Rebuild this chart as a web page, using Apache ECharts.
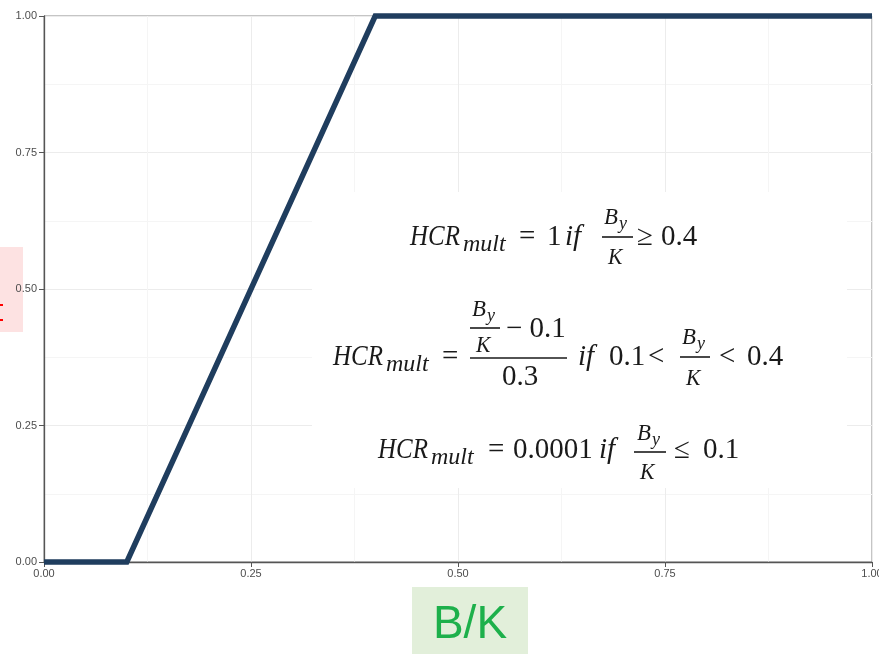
<!DOCTYPE html>
<html><head><meta charset="utf-8">
<script src="https://cdn.jsdelivr.net/npm/echarts@6/dist/echarts.min.js"></script>
<style>html,body{margin:0;padding:0;background:#fff}#c{width:879px;height:654px}</style>
</head><body><div id="c"></div>
<script>
// Data: B/K vs HCR multiplier
const xValues = [0, 0.1, 0.4, 1.0];
const yValues = [0.0001, 0.0001, 1.0, 1.0];
const xTicks = [0, 0.25, 0.5, 0.75, 1.0];
const yTicks = [0, 0.25, 0.5, 0.75, 1.0];
const xLabel = 'B/K';

const chart = echarts.init(document.getElementById('c'), null, {renderer:'canvas'});

const serif = '"Liberation Serif", "DejaVu Serif", serif';
function T(x, y, text, size, italic, sx) {
  return {type:'text', z:100, x:x, y:y, scaleX:sx||1, style:{text:text, fill:'#1a1a1a',
    font:(italic?'italic ':'') + size + 'px ' + serif, textAlign:'left', textVerticalAlign:'bottom', verticalAlign:'bottom'}};
}
function B(x, base, text, size, italic, sx) { return T(x, base + Math.round(size*0.22), text, size, italic, sx); }
function bar(x1, x2, y) { return {type:'line', z:100, shape:{x1:x1,y1:y,x2:x2,y2:y}, style:{stroke:'#1a1a1a', lineWidth:1.6}}; }
function frac(xb1, xb2, yb, bx, bBase, kx, kBase) {
  return [bar(xb1, xb2, yb), B(bx, bBase, 'B', 24, true, 0.95), B(bx+15, bBase+4, 'y', 18, true), B(kx, kBase, 'K', 24, true, 0.9)];
}
const M = 29, V = 29, S = 24, HS = 0.86;
let formula = [
  {type:'rect', z:90, shape:{x:312, y:192, width:535, height:296}, style:{fill:'#ffffff'}},
  // line 1
  B(410, 246, 'HCR', V, true, HS), B(463, 252, 'mult', S, true), B(519, 246, '=', M, false),
  B(547, 246, '1', M, false), B(565, 246, 'if', M, true),
  ...frac(602, 633, 237, 604, 225, 608, 265),
  B(637, 246, '\u2265', M, false), B(661, 246, '0.4', M, false),
  // line 2
  B(333, 366, 'HCR', V, true, HS), B(386, 372, 'mult', S, true), B(442, 366, '=', M, false),
  bar(470, 567, 358),
  ...frac(470, 500, 328, 472, 317, 476, 353),
  B(506, 338, '\u2212 0.1', M, false), B(502, 386, '0.3', M, false),
  B(578, 366, 'if', M, true), B(609, 366, '0.1', M, false), B(648, 366, '<', M, false),
  ...frac(680, 710, 357, 682, 345, 686, 386),
  B(719, 366, '<', M, false), B(747, 366, '0.4', M, false),
  // line 3
  B(378, 459, 'HCR', V, true, HS), B(431, 465, 'mult', S, true), B(488, 459, '=', M, false),
  B(513, 459, '0.0001', M, false), B(599, 459, 'if', M, true),
  ...frac(634, 666, 452, 637, 441, 640, 480),
  B(674, 459, '\u2264', M, false), B(703, 459, '0.1', M, false)
];

const labelGraphics = [
  {type:'rect', shape:{x:0, y:247, width:23, height:85}, style:{fill:'#fde2e2'}, z:-10},
  {type:'rect', shape:{x:0, y:304, width:3, height:2}, style:{fill:'#ff0000'}, z:-9},
  {type:'rect', shape:{x:0, y:319, width:3, height:2}, style:{fill:'#ff0000'}, z:-9},
  {type:'rect', shape:{x:412, y:587, width:116, height:67}, style:{fill:'#e2efda'}, z:50},
  {type:'text', x:470, y:648, z:51, style:{text:xLabel, fill:'#1db04b', font:'46px "Liberation Sans", Arial, sans-serif', textAlign:'center', textVerticalAlign:'bottom', verticalAlign:'bottom'}}
];

const axisCommon = {
  type:'value', min:0, max:1, interval:0.25,
  axisLine:{show:true, lineStyle:{color:'#555', width:1.3}},
  axisTick:{show:true, length:5, lineStyle:{color:'#555'}},
  axisLabel:{color:'#4d4d4d', fontSize:11, fontFamily:'"Liberation Sans", Arial, sans-serif', formatter:v=>v.toFixed(2)},
  splitLine:{show:true, lineStyle:{color:'#ececec', width:1}},
  minorTick:{show:false, splitNumber:2},
  minorSplitLine:{show:true, lineStyle:{color:'#f5f5f5', width:1}}
};

chart.setOption({
  animation:false,
  backgroundColor:'#ffffff',
  grid:{left:44, right:7, top:16, bottom:92, show:true, borderColor:'#8a8a8a', borderWidth:1, backgroundColor:'transparent', containLabel:false, outerBoundsMode:'none'},
  xAxis:Object.assign({}, axisCommon, {axisLabel:Object.assign({}, axisCommon.axisLabel, {margin:6})}),
  yAxis:Object.assign({}, axisCommon, {axisLabel:Object.assign({}, axisCommon.axisLabel, {margin:7})}),
  series:[{type:'line', data:xValues.map((x,i)=>[x, yValues[i]]), symbol:'none',
    lineStyle:{color:'#1f3d5e', width:5.5, join:'miter'}, z:20, clip:false}],
  graphic:formula.concat(labelGraphics)
});
</script></body></html>
